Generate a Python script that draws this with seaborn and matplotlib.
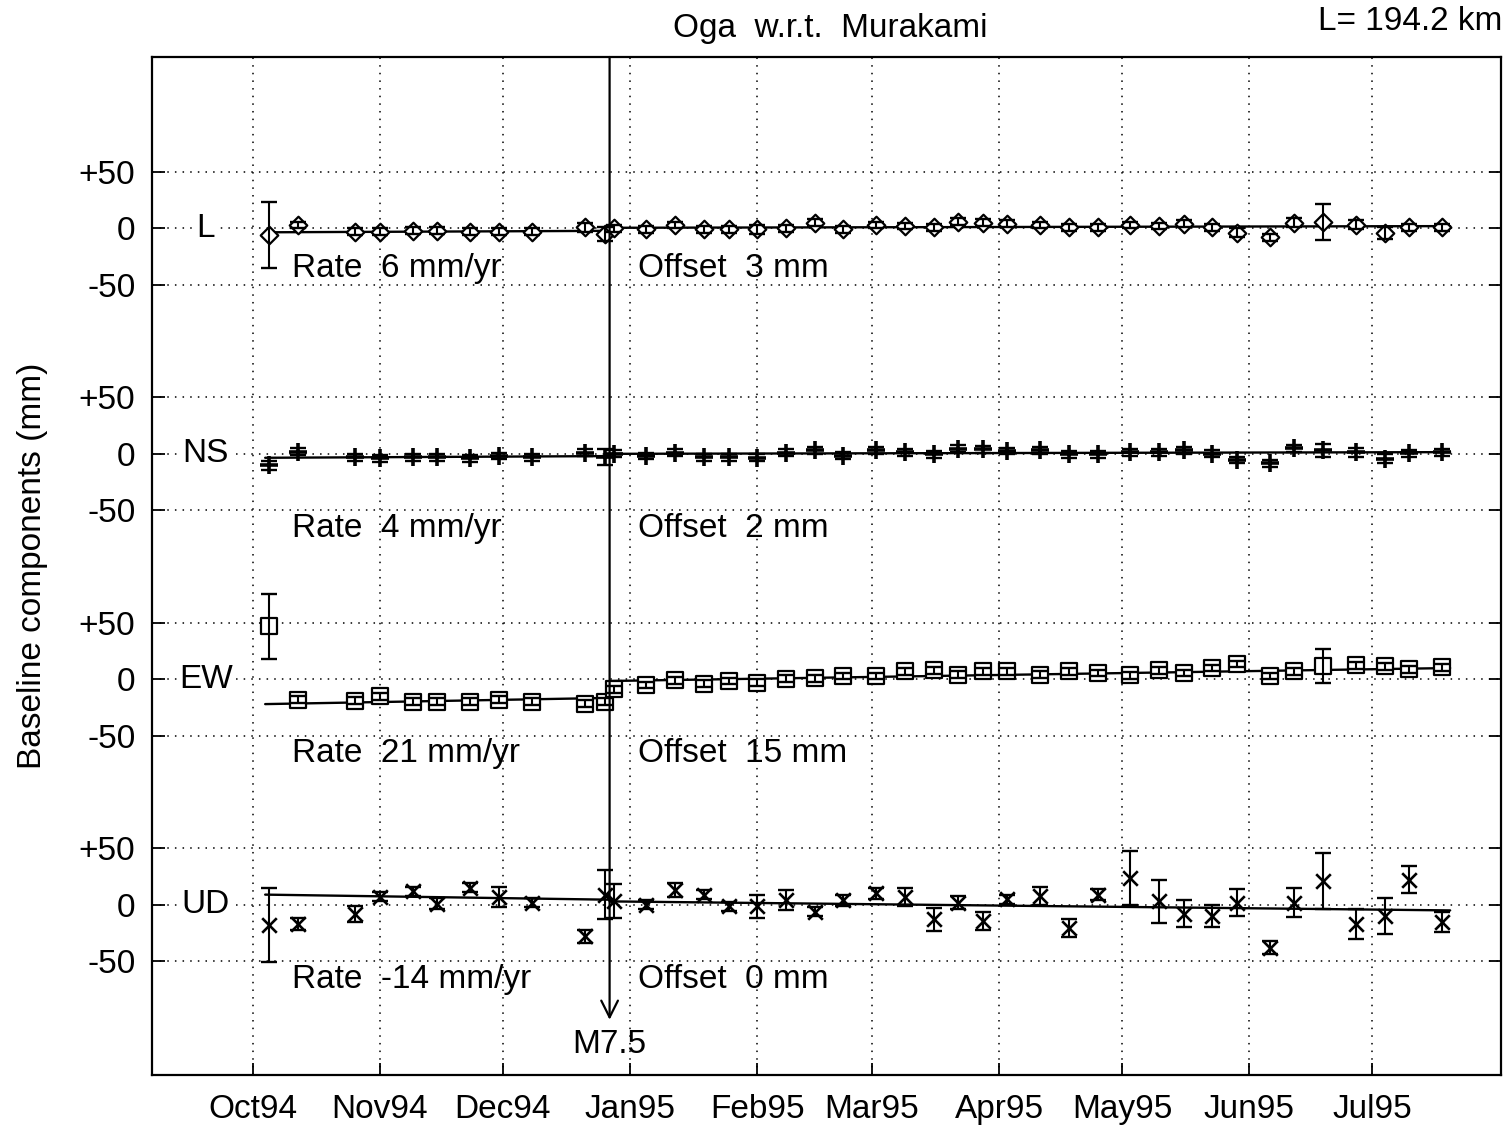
import numpy as np
import pandas as pd
import matplotlib
matplotlib.use("Agg")
import matplotlib.pyplot as plt
import seaborn as sns

# ---------------- data ----------------
# observation epochs, days since 1 Oct 1994
days = [4, 11, 25, 31, 39, 45, 53, 60, 68, 81, 86, 88, 96, 103, 110, 116, 123, 130, 137, 144,
        152, 159, 166, 172, 178, 184, 192, 199, 206, 214, 221, 227, 234, 240, 248, 254, 261,
        269, 276, 282, 290]

L_vals = [-6, 3, -3, -3, -2, -2, -3, -3, -3, 1, -5, 0, -1, 3, -1, -1, -1, 0, 5, -1,
          3, 2, 1, 6, 5, 4, 3, 1, 1, 3, 2, 4, 1, -4, -8, 5, 6, 3, -4, 1, 1]
L_err = [29, 3, 3, 3, 3, 3, 3, 3, 3, 4, 6, 3, 3, 3, 3, 3, 4, 3, 3, 3,
         3, 3, 3, 3, 3, 3, 3, 3, 3, 3, 3, 3, 3, 4, 3, 4, 16, 4, 5, 3, 3]

NS_vals = [-10, 2, -3, -4, -3, -3, -4, -2, -3, 1, -3, 0, -2, 1, -3, -3, -3.5, 1, 3, -1.5,
           3, 1.5, -0.5, 4.5, 4, 2.5, 3, -0.5, -0.5, 1.5, 1.5, 3, 0, -5.5, -8.5, 5, 3, 1.5,
           -4.5, 0.5, 1.5]
NS_err = [4, 3, 3, 3, 3, 3, 3, 3, 3, 3, 7, 3, 3, 3, 3, 3, 3, 3, 3, 3,
          3, 3, 3, 3, 3, 3, 3, 3, 3, 3, 3, 3, 3, 3, 3, 3, 6, 4, 4, 3, 3]

EW_vals = [47, -18, -19, -15, -20, -20, -20, -18, -20, -21.5, -20, -9, -5, -1, -4, -1.5, -3,
           0.5, 1, 3, 3, 7, 8, 4, 7, 7, 4, 7, 5.5, 3.5, 8, 5.5, 10, 13.5, 3, 7, 12, 12.5,
           11.5, 9, 10.5]
EW_err = [29, 3, 3, 3, 3, 3, 3, 3, 3, 3, 3, 3, 3, 3, 3, 3, 3, 3, 3, 3,
          3, 3, 3, 3, 3, 3, 3, 3, 3, 3, 3, 3, 3, 3, 3, 3, 15, 3, 3, 3, 3]

UD_vals = [-18, -17, -8, 7, 12, 1, 15, 7, 2, -28, 9, 3, 0, 13, 9, -1.5, -1.5, 4, -6, 4,
           10, 7, -13, 2, -14, 5, 8, -21, 9, 24, 3, -8, -10, 2, -38, 2, 21, -17, -10, 22, -15]
UD_err = [33, 5, 7, 4, 4, 5, 4, 9, 4, 6, 22, 15, 4, 6, 4, 4, 10, 9, 4, 5,
          5, 8, 10, 6, 8, 4, 8, 8, 5, 24, 19, 12, 10, 12, 6, 13, 25, 13, 16, 12, 9]

components = ["L", "NS", "EW", "UD"]
panel_offsets = [600, 400, 200, 0]
rates = ["6", "4", "21", "-14"]
offsets_mm = ["3", "2", "15", "0"]

# fitted lines: value at start, at quake (before), at quake (after), at end
fit_t = [3, 87, 87, 292]
L_fit = [-3.5, -2.2, 0.5, 2]
NS_fit = [-3.5, -2, 0, 1.5]
EW_fit = [-22, -16.5, -1.5, 10]
UD_fit = [9, 4.5, 3, -5]

quake_day = 87
month_days = [0, 31, 61, 92, 123, 151, 182, 212, 243, 273]
month_labels = ["Oct94", "Nov94", "Dec94", "Jan95", "Feb95", "Mar95", "Apr95",
                "May95", "Jun95", "Jul95"]

# ---------------- style ----------------
sns.set_style("ticks")
plt.rcParams["font.family"] = ["Liberation Sans", "DejaVu Sans"]
plt.rcParams["text.color"] = "black"
plt.rcParams["axes.labelcolor"] = "black"
plt.rcParams["xtick.color"] = "black"
plt.rcParams["ytick.color"] = "black"
FS = 24

fig = plt.figure(figsize=(15.10, 11.27), dpi=100)
ax = fig.add_axes([152 / 1510, 1 - 1075 / 1127, (1501 - 152) / 1510, (1075 - 57) / 1127])

vals_all = [L_vals, NS_vals, EW_vals, UD_vals]
errs_all = [L_err, NS_err, EW_err, UD_err]
fits_all = [L_fit, NS_fit, EW_fit, UD_fit]

for comp, off, v, e, f, rate, offs in zip(components, panel_offsets, vals_all, errs_all,
                                          fits_all, rates, offsets_mm):
    df = pd.DataFrame({"day": days, "val": np.array(v, dtype=float) + off})
    fdf = pd.DataFrame({"day": fit_t, "val": np.array(f, dtype=float) + off})
    sns.lineplot(data=fdf, x="day", y="val", color="black", lw=1.7, ax=ax, zorder=2,
                 sort=False, estimator=None)
    if comp == "L":
        sns.scatterplot(data=df, x="day", y="val", marker="D", s=80, facecolor="white",
                        edgecolor="black", linewidth=1.6, ax=ax, zorder=3)
    elif comp == "EW":
        sns.scatterplot(data=df, x="day", y="val", marker="s", s=130, facecolor="white",
                        edgecolor="black", linewidth=1.6, ax=ax, zorder=3)
    elif comp == "NS":
        sns.scatterplot(data=df, x="day", y="val", marker="+", s=170, color="black",
                        linewidth=2.6, ax=ax, zorder=3)
    else:
        sns.scatterplot(data=df, x="day", y="val", marker="x", s=110, color="black",
                        linewidth=1.9, ax=ax, zorder=3)
    ax.errorbar(df["day"], df["val"], yerr=e, fmt="none", ecolor="black", elinewidth=1.5,
                capsize=6, capthick=1.7, zorder=4)
    ax.text(-11.5, off, comp, ha="center", va="center", fontsize=FS,
            bbox=dict(facecolor="white", edgecolor="none", pad=1))
    ty = off - 36 if comp == "L" else off - 66
    ax.text(9.5, ty, f"Rate  {rate} mm/yr", ha="left", va="center", fontsize=FS)
    ax.text(94, ty, f"Offset  {offs} mm", ha="left", va="center", fontsize=FS)

# earthquake marker
ax.annotate("", xy=(quake_day, -102), xytext=(quake_day, 752),
            arrowprops=dict(arrowstyle="->", lw=1.6, color="black", mutation_scale=30,
                            shrinkA=0, shrinkB=0), zorder=5)
ax.text(quake_day, -124, "M7.5", ha="center", va="center", fontsize=FS)

# axes
ax.set_xlim(-24.6, 304.4)
ax.set_ylim(-151, 752)
ax.set_xticks(month_days)
ax.set_xticklabels(month_labels)
yt, yl = [], []
for off in panel_offsets[::-1]:
    yt += [off - 50, off, off + 50]
    yl += ["-50", "0", "+50"]
ax.set_yticks(yt)
ax.set_yticklabels(yl)
ax.tick_params(direction="in", length=9, width=1.3, right=True, labelsize=FS, pad=12,
               colors="black")
ax.tick_params(axis="x", pad=14)
ax.grid(True, linestyle=(0, (1, 4)), color="black", linewidth=1.1)
for sp in ax.spines.values():
    sp.set_linewidth(1.6)
    sp.set_color("black")
ax.set_xlabel("")
ax.set_ylabel("Baseline components (mm)", fontsize=FS, labelpad=22)

fig.text(830 / 1510, 1 - 28 / 1127, "Oga  w.r.t.  Murakami", ha="center", va="center",
         fontsize=FS)
fig.text(1502 / 1510, 1 - 22 / 1127, "L= 194.2 km", ha="right", va="center", fontsize=FS)

fig.savefig("out.png", dpi=100, facecolor="white")
